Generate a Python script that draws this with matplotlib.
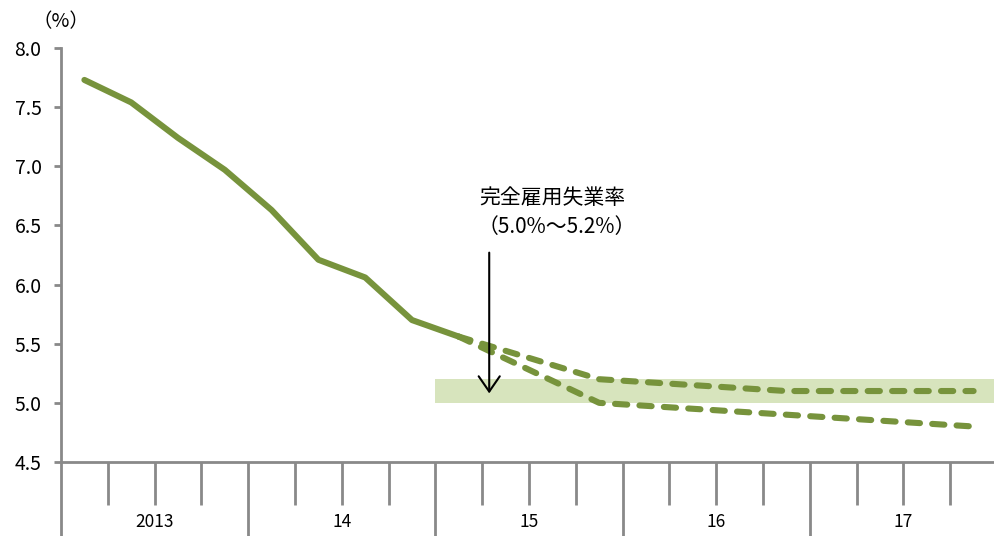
import matplotlib
matplotlib.use("Agg")
import matplotlib.pyplot as plt

plt.rcParams['font.family'] = ['Noto Sans CJK JP', 'DejaVu Sans']

# quarterly unemployment rate, 2013Q1 .. 2015Q1 (actual)
actual_q = [0, 1, 2, 3, 4, 5, 6, 7, 8]
actual_rate = [7.73, 7.54, 7.24, 6.97, 6.63, 6.21, 6.06, 5.70, 5.56]

# projection range (upper / lower), anchored at 2015Q1, 2015Q4, 2016Q4, 2017Q4
proj_q = [8, 11, 15, 19]
proj_upper = [5.56, 5.2, 5.1, 5.1]
proj_lower = [5.56, 5.0, 4.9, 4.8]

# full-employment band
band_low, band_high = 5.0, 5.2
band_start, band_end = 8, 20

years = ['2013', '14', '15', '16', '17']
yticks = [4.5, 5.0, 5.5, 6.0, 6.5, 7.0, 7.5, 8.0]

green = '#77933C'
band_color = '#D7E4BD'
axis_gray = '#898989'

fig = plt.figure(figsize=(9.94, 5.36), dpi=100)
ax = fig.add_axes([61 / 994, 74 / 536, 936 / 994, 414 / 536])

ax.fill_between([band_start, band_end], band_low, band_high, color=band_color, lw=0, zorder=1)

x_actual = [q + 0.5 for q in actual_q]
x_proj = [q + 0.5 for q in proj_q]
ax.plot(x_actual, actual_rate, color=green, lw=4.4, solid_capstyle='round',
        solid_joinstyle='round', zorder=3)
for vals in (proj_upper, proj_lower):
    ax.plot(x_proj, vals, color=green, lw=4.4, dashes=(2.0, 2.0),
            dash_capstyle='round', zorder=3)

ax.annotate('', xy=(9.15, 5.08), xytext=(9.15, 6.27),
            arrowprops=dict(arrowstyle='->,head_length=0.55,head_width=0.38',
                            color='black', lw=1.5, shrinkA=0, shrinkB=0,
                            mutation_scale=20), zorder=4)
ax.text(10.5, 6.73, '完全雇用失業率', ha='center', va='center', fontsize=15)
ax.text(10.6, 6.49, '（5.0%～5.2%）', ha='center', va='center', fontsize=15)

ax.set_xlim(0, 20)
ax.set_ylim(4.5, 8.0)
ax.set_yticks(yticks)
ax.set_yticklabels([f'{v:.1f}' for v in yticks], fontsize=14)
ax.set_xticks([0, 4, 8, 12, 16, 20])
ax.set_xticklabels([])
ax.set_xticks([q for q in range(1, 20) if q % 4 != 0], minor=True)

for s in ('top', 'right'):
    ax.spines[s].set_visible(False)
for s in ('left', 'bottom'):
    ax.spines[s].set_color(axis_gray)
    ax.spines[s].set_linewidth(2)
ax.tick_params(axis='y', length=5, width=2, color=axis_gray, pad=9)
ax.tick_params(axis='x', which='major', length=56, width=2, color=axis_gray)
ax.tick_params(axis='x', which='minor', length=31, width=2, color=axis_gray)

for i, label in enumerate(years):
    ax.text(4 * i + 2, -0.145, label, transform=ax.get_xaxis_transform(),
            ha='center', va='center', fontsize=12.5)

ax.text(0.0, 1.063, '（%）', transform=ax.transAxes, ha='center', va='center', fontsize=14)

fig.savefig('out.png', dpi=100)
